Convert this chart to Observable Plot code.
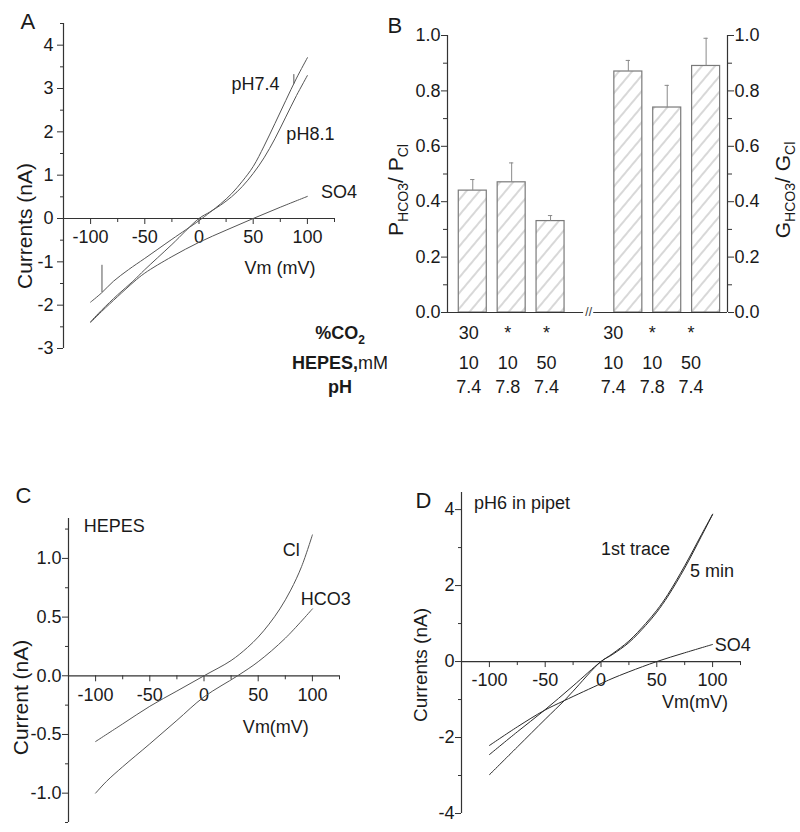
<!DOCTYPE html>
<html><head><meta charset="utf-8">
<script src="https://cdn.jsdelivr.net/npm/d3@7"></script>
<script src="https://cdn.jsdelivr.net/npm/@observablehq/plot@0.6"></script>
<style>
body{margin:0;background:#fff;}
#fig{position:relative;width:800px;height:832px;overflow:hidden;background:#fff;font-family:"Liberation Sans",Arial,sans-serif;}
#fig > div{position:absolute;}
</style></head><body>
<div id="fig">
  <div id="pA" style="left:0;top:0;width:370px;height:400px"></div>
  <div id="pB" style="left:320px;top:0;width:480px;height:420px"></div>
  <div id="pC" style="left:0;top:470px;width:400px;height:362px"></div>
  <div id="pD" style="left:400px;top:470px;width:400px;height:362px"></div>
</div>
<script>
// ---------------- Panel A data ----------------
const aVm74 = [-100,-90,-79,-65,-50,-25,0,10,20,30,40,50,60,70,80,90,100];
const aI74  = [-1.93,-1.72,-1.45,-1.18,-0.92,-0.48,-0.05,0.14,0.34,0.57,0.86,1.2,1.67,2.19,2.72,3.24,3.71];
const aVm81 = [-100,-90,-75,-61,-50,-25,0,10,20,30,40,50,60,70,80,90,100];
const aI81  = [-2.38,-2.12,-1.76,-1.45,-1.18,-0.6,0,0.15,0.31,0.5,0.74,1.04,1.4,1.84,2.34,2.84,3.3];
const aVmSO4 = [-100,-90,-75,-60,-50,-25,0,25,50,75,100];
const aISO4  = [-2.4,-2.15,-1.8,-1.46,-1.26,-0.88,-0.55,-0.27,0,0.26,0.51];
const aSpikeVm = [-89.5, 87.5];
const aSpikeFrom = [-1.71, 3.1];
const aSpikeTo = [-1.08, 3.32];
const aYMajor = [-3,-2,-1,0,1,2,3,4];
const aYMinor = [-2.5,-1.5,-0.5,0.5,1.5,2.5,3.5,4.5];
const aLabelText = ["pH7.4","pH8.1","SO4"];
const aLabelVm = [30, 80.6, 112.6];
const aLabelI = [3.1, 1.94, 0.61];

// ---------------- Panel B data ----------------
const bPos = [1,2,3,5,6,7];
const bRatio = [0.44,0.47,0.33,0.87,0.74,0.89];
const bErrTop = [0.48,0.54,0.35,0.91,0.82,0.99];
const bCO2 = ["30","*","*","30","*","*"];
const bHEPES = ["10","10","50","10","10","50"];
const bPH = ["7.4","7.8","7.4","7.4","7.8","7.4"];
const bYMajor = [0,0.2,0.4,0.6,0.8,1.0];
const bYMinor = [0.1,0.3,0.5,0.7,0.9];

// ---------------- Panel C data ----------------
const cVmCl = [-100,-75,-50,-25,0,25,40,50,60,70,80,90,100];
const cICl  = [-0.56,-0.41,-0.26,-0.13,0,0.13,0.24,0.33,0.44,0.57,0.73,0.93,1.2];
const cVmHCO3 = [-100,-90,-75,-50,-25,0,31,50,75,100];
const cIHCO3  = [-1.0,-0.9,-0.775,-0.58,-0.38,-0.18,0,0.12,0.32,0.57];
const cYMajor = [-1.0,-0.5,0,0.5,1.0];
const cYMinor = [-1.25,-0.75,-0.25,0.25,0.75,1.25];
const cLabelText = ["HEPES","Cl","HCO3"];
const cLabelVm = [-111, 72.7, 89.3];
const cLabelI = [1.27, 1.07, 0.65];

// ---------------- Panel D data ----------------
const dVmT1 = [-100,-75,-50,-33,-25,0,10,25,40,50,60,75,90,100];
const dIT1  = [-2.98,-2.25,-1.52,-1.03,-0.78,0,0.18,0.5,0.95,1.3,1.72,2.46,3.3,3.87];
const dVmT2 = [-100,-75,-51,-25,0,10,25,40,50,60,75,90,100];
const dIT2  = [-2.45,-1.85,-1.29,-0.64,0,0.2,0.54,1.0,1.35,1.77,2.52,3.34,3.88];
const dVmSO4 = [-100,-75,-51,-33,0,9,25,50,75,100];
const dISO4  = [-2.21,-1.72,-1.29,-1.03,-0.58,-0.46,-0.27,0,0.23,0.45];
const dYMajor = [-4,-2,0,2,4];
const dYMinor = [-3,-1,1,3];
const dLabelText = ["pH6 in pipet","1st trace","5 min","SO4"];
const dLabelVm = [-113.9, 0, 79.8, 102];
const dLabelI = [4.18, 2.95, 2.37, 0.42];

const xMajor = [-100,-50,0,50,100];
const xMinor = [-125,-75,-25,25,75,125];

const FONT = '"Liberation Sans", Arial, Helvetica, sans-serif';
const FS = 18;
const AX = "#333";
const TXT = "#1a1a1a";

function rows(vm, cur){ return vm.map((v,k)=>({vm:v, cur:cur[k]})); }

function ivPanel(o){
  const fh = o.height - o.mt - o.mb;
  const span = o.yDomain[1]-o.yDomain[0];
  const pxY = px => px*span/fh;
  const marks = [
    Plot.axisY(o.yMajor, {tickSize:6, tickPadding:o.yPad, tickFormat:o.yFmt, label:null, stroke:AX, fill:TXT, fontSize:FS}),
    Plot.axisY(o.yMinor, {tickSize:3, tickFormat:()=>"", label:null, stroke:AX}),
    Plot.ruleX([o.xDomain[0]], {stroke:AX, strokeWidth:1.2}),
    Plot.ruleY([0], {stroke:AX, strokeWidth:1.2}),
    Plot.ruleX(xMajor, {x:d=>d, y1:0, y2:-pxY(6), stroke:AX}),
    Plot.ruleX(xMinor, {x:d=>d, y1:0, y2:-pxY(4), stroke:AX}),
    Plot.text(xMajor, {x:d=>d, y:0, text:d=>String(d), dy:12, lineAnchor:"top", fill:TXT, fontSize:FS})
  ];
  for (const s of o.series) marks.push(Plot.line(rows(s.vm, s.cur), {x:"vm", y:"cur", curve:"catmull-rom", stroke:o.stroke, strokeWidth:1}));
  if (o.spikes) marks.push(Plot.ruleX(o.spikes, {x:"vm", y1:"from", y2:"to", stroke:o.stroke, strokeWidth:1}));
  marks.push(Plot.text(o.labels, {x:"vm", y:"cur", text:"text", textAnchor:"start", lineAnchor:"middle", fill:TXT, fontSize:FS}));
  marks.push(Plot.text([o.xlabel.text], {x:o.xlabel.vm, y:o.xlabel.cur, text:d=>d, textAnchor:"middle", lineAnchor:"middle", fill:TXT, fontSize:FS}));
  marks.push(Plot.text([o.ylabel.text], {frameAnchor:"left", text:d=>d, rotate:-90, dx:o.ylabel.dx, dy:o.ylabel.dy, fontSize:o.ylabel.size, textAnchor:"middle", lineAnchor:"middle", fill:TXT}));
  marks.push(Plot.text([o.letter.text], {frameAnchor:"top-left", text:d=>d, dx:o.letter.dx, dy:o.letter.dy, fontSize:22, textAnchor:"start", lineAnchor:"middle", fill:TXT}));
  return Plot.plot({
    width:o.width, height:o.height, marginLeft:o.ml, marginRight:o.mr, marginTop:o.mt, marginBottom:o.mb,
    style:{fontFamily:FONT, fontSize:"18px", background:"transparent", overflow:"visible", color:TXT},
    x:{domain:o.xDomain, axis:null},
    y:{domain:o.yDomain},
    marks
  });
}
function labelRows(t, v, c){ return t.map((s,k)=>({text:s, vm:v[k], cur:c[k]})); }
const intFmt = d => String(d);
const oneFmt = d => d.toFixed(1);

// ---- Panel A
const A = ivPanel({
  width:370, height:400, ml:63, mr:36, mt:23, mb:52,
  xDomain:[-125,125], yDomain:[-3,4.5], yMajor:aYMajor, yMinor:aYMinor, yFmt:intFmt, yPad:4,
  series:[{vm:aVm74, cur:aI74},{vm:aVm81, cur:aI81},{vm:aVmSO4, cur:aISO4}],
  spikes: aSpikeVm.map((v,k)=>({vm:v, from:aSpikeFrom[k], to:aSpikeTo[k]})),
  labels: labelRows(aLabelText, aLabelVm, aLabelI),
  xlabel:{text:"Vm (mV)", vm:74.7, cur:-1.14},
  ylabel:{text:"Currents (nA)", dx:-38, dy:40, size:21},
  letter:{text:"A", dx:-43, dy:-2},
  stroke:"#555"
});
document.getElementById("pA").append(A);

// ---- Panel C
const C = ivPanel({
  width:400, height:362, ml:68, mr:61, mt:48, mb:10,
  xDomain:[-125,125], yDomain:[-1.25,1.34], yMajor:cYMajor, yMinor:cYMinor, yFmt:oneFmt, yPad:1,
  series:[{vm:cVmCl, cur:cICl},{vm:cVmHCO3, cur:cIHCO3}],
  labels: labelRows(cLabelText, cLabelVm, cLabelI),
  xlabel:{text:"Vm(mV)", vm:66.3, cur:-0.44},
  ylabel:{text:"Current (nA)", dx:-47, dy:27, size:21},
  letter:{text:"C", dx:-53, dy:-23},
  stroke:"#555"
});
document.getElementById("pC").append(C);

// ---- Panel D
const D = ivPanel({
  width:400, height:362, ml:61, mr:60, mt:22, mb:19,
  xDomain:[-125,125], yDomain:[-4,4.45], yMajor:dYMajor, yMinor:dYMinor, yFmt:intFmt, yPad:1,
  series:[{vm:dVmT1, cur:dIT1},{vm:dVmT2, cur:dIT2},{vm:dVmSO4, cur:dISO4}],
  labels: labelRows(dLabelText, dLabelVm, dLabelI),
  xlabel:{text:"Vm(mV)", vm:84.3, cur:-1.08},
  ylabel:{text:"Currents (nA)", dx:-41, dy:12, size:19},
  letter:{text:"D", dx:-46, dy:8},
  stroke:"#2a2a2a"
});
document.getElementById("pD").append(D);

// ---- Panel B
const bXDomain = [0.35, 7.55];
const bHalf = 0.36, bCap = 0.055;
const bBreak = 3.98, bBreakGap = 0.13;
const bAxisSegments = [{from:bXDomain[0], to:bBreak-bBreakGap},{from:bBreak+bBreakGap, to:bXDomain[1]}];
const bRowY = [-0.076, -0.184, -0.27];
const bRows = bPos.map((p,k)=>({pos:p, v:bRatio[k], err:bErrTop[k], co2:bCO2[k], hepes:bHEPES[k], ph:bPH[k], grp: p < bBreak ? 0 : 1}));
const bLeft = bRows.filter(d=>d.grp===0), bRight = bRows.filter(d=>d.grp===1);
const tableMarks = [];
[["co2",0],["hepes",1],["ph",2]].forEach(([key,r])=>{
  tableMarks.push(Plot.text(bLeft, {x:"pos", y:bRowY[r], text:key, dx:-4, fill:TXT, fontSize:FS}));
  tableMarks.push(Plot.text(bRight, {x:"pos", y:bRowY[r], text:key, dx:-15, fill:TXT, fontSize:FS}));
});
const B = Plot.plot({
  width:480, height:420, marginLeft:127, marginRight:73, marginTop:35, marginBottom:108,
  style:{fontFamily:FONT, fontSize:"18px", background:"transparent", overflow:"visible", color:TXT},
  x:{domain:bXDomain, axis:null},
  y:{domain:[0,1]},
  marks:[
    Plot.rect(bRows, {x1:d=>d.pos-bHalf, x2:d=>d.pos+bHalf, y1:0, y2:"v", fill:"url(#hatchB)", stroke:"#7a7a7a", strokeWidth:1.2}),
    Plot.ruleX(bRows, {x:"pos", y1:"v", y2:"err", stroke:"#8a8a8a"}),
    Plot.ruleY(bRows, {y:"err", x1:d=>d.pos-bCap, x2:d=>d.pos+bCap, stroke:"#8a8a8a"}),
    Plot.ruleX([bXDomain[0]], {stroke:AX, strokeWidth:1.2}),
    Plot.ruleX([bXDomain[1]], {stroke:AX, strokeWidth:1.2}),
    Plot.ruleY(bAxisSegments, {y:0, x1:"from", x2:"to", stroke:AX, strokeWidth:1.2}),
    Plot.text(["//"], {x:bBreak, y:0, text:d=>d, fontSize:12, fill:AX}),
    Plot.axisY(bYMajor, {anchor:"left", tickSize:6, tickPadding:1, tickFormat:oneFmt, label:null, stroke:AX, fill:TXT, fontSize:FS}),
    Plot.axisY(bYMinor, {anchor:"left", tickSize:4, tickFormat:()=>"", label:null, stroke:AX}),
    Plot.axisY(bYMajor, {anchor:"right", tickSize:6, tickPadding:1, tickFormat:oneFmt, label:null, stroke:AX, fill:TXT, fontSize:FS}),
    Plot.axisY(bYMinor, {anchor:"right", tickSize:4, tickFormat:()=>"", label:null, stroke:AX}),
    ...tableMarks,
    Plot.text(["B"], {frameAnchor:"top-left", text:d=>d, dx:-60, dy:-10, fontSize:22, textAnchor:"start", lineAnchor:"middle", fill:TXT})
  ]
});
document.getElementById("pB").append(B);

// hatch pattern + labels with subscripts for panel B
const sB = d3.select(B);
const pat = sB.insert("defs", ":first-child").append("pattern")
  .attr("id","hatchB").attr("patternUnits","userSpaceOnUse")
  .attr("width",10).attr("height",10).attr("patternTransform","rotate(40)");
pat.append("rect").attr("width",10).attr("height",10).attr("fill","#fff");
pat.append("line").attr("x1",5).attr("y1",-1).attr("x2",5).attr("y2",11).attr("stroke","#a8a8a8").attr("stroke-width",0.9);

function subLabel(x, y, main1, sub1, main2, sub2){
  const t = sB.append("text").attr("transform",`translate(${x},${y}) rotate(-90)`)
    .attr("text-anchor","middle").attr("font-size",21).attr("fill",TXT).attr("font-family",FONT);
  t.append("tspan").text(main1);
  t.append("tspan").attr("font-size",14).attr("dy",5).text(sub1);
  t.append("tspan").attr("dy",-5).text(main2);
  t.append("tspan").attr("font-size",14).attr("dy",5).text(sub2);
}
subLabel(83, 190, "P", "HCO3", "/ P", "Cl");
subLabel(470, 190, "G", "HCO3", "/ G", "Cl");

const yB = B.scale("y");
const rowBase = r => yB.apply(bRowY[r]) + 6;
const r1 = sB.append("text").attr("x",20).attr("y",rowBase(0)).attr("font-weight","bold").attr("font-size",18).attr("fill",TXT).attr("font-family",FONT);
r1.append("tspan").text("%CO");
r1.append("tspan").attr("font-size",12).attr("dy",5).text("2");
const r2 = sB.append("text").attr("x",20).attr("y",rowBase(1)).attr("font-size",18).attr("fill",TXT).attr("font-family",FONT);
r2.append("tspan").attr("font-weight","bold").text("HEPES,");
r2.append("tspan").text("mM");
sB.append("text").attr("x",20).attr("y",rowBase(2)).attr("font-weight","bold").attr("font-size",18).attr("fill",TXT).attr("font-family",FONT).text("pH");
</script>
</body></html>
